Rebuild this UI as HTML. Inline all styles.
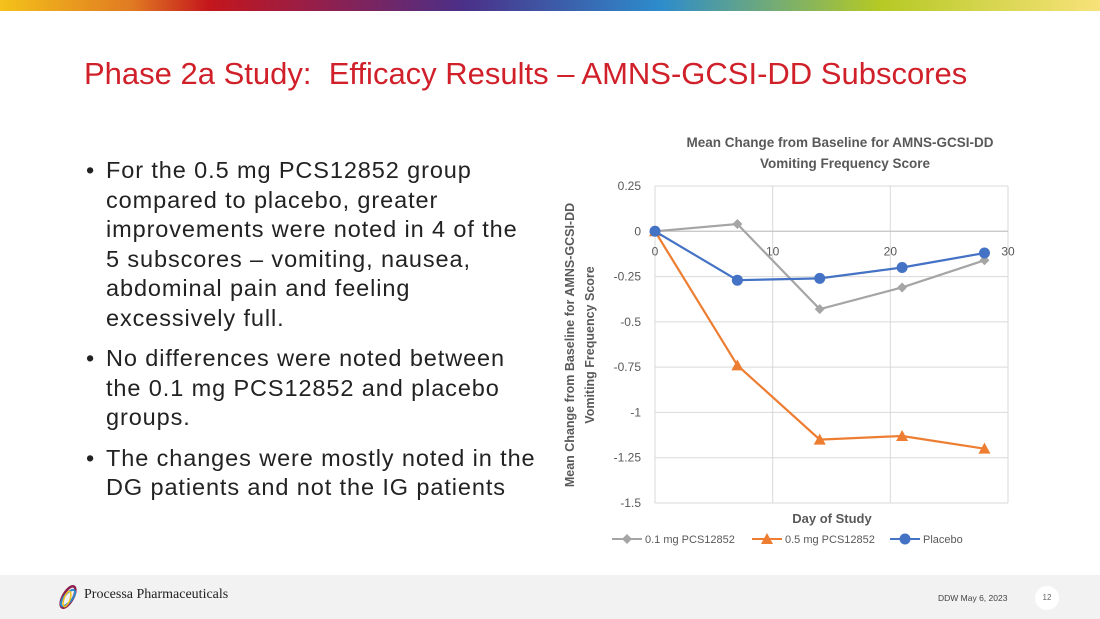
<!DOCTYPE html>
<html><head><meta charset="utf-8"><style>
body{margin:0;width:1100px;height:619px;position:relative;overflow:hidden;background:#fff;font-family:"Liberation Sans",sans-serif}
#band{position:absolute;left:0;top:0;width:1100px;height:11px;background:linear-gradient(90deg,#f4c21a 0%,#e07a22 12%,#c4161c 19%,#8e2050 30%,#4b2f87 42%,#2d8ccc 60%,#b5c924 80%,#f8e27a 100%)}
#title{position:absolute;left:84px;top:56px;font-size:31px;color:#d0202a;white-space:nowrap}
#bullets{position:absolute;left:86px;top:156px;width:470px;font-size:23.5px;letter-spacing:0.9px;line-height:29.5px;color:#222;margin:0;padding:0;list-style:none;white-space:nowrap}
#bullets li{position:relative;padding-left:20px;margin-bottom:11px}
#bullets li:before{content:"•";position:absolute;left:0}
#footer{position:absolute;left:0;top:575px;width:1100px;height:44px;background:#f2f2f2}
</style></head><body>
<div id="band"></div>
<div id="title">Phase 2a Study:&nbsp; Efficacy Results – AMNS-GCSI-DD Subscores</div>
<ul id="bullets">
<li>For the 0.5 mg PCS12852 group<br>compared to placebo, greater<br>improvements were noted in 4 of the<br>5 subscores – vomiting, nausea,<br>abdominal pain and feeling<br>excessively full.</li>
<li>No differences were noted between<br>the 0.1 mg PCS12852 and placebo<br>groups.</li>
<li>The changes were mostly noted in the<br>DG patients and not the IG patients</li>
</ul>
<svg id="chart" width="1100" height="619" style="position:absolute;left:0;top:0" font-family="Liberation Sans, sans-serif"></svg>
<div id="footer">
<svg style="position:absolute;left:56px;top:8px" width="24" height="28"><ellipse cx="12" cy="14" rx="5" ry="12" fill="none" stroke="#8e2050" stroke-width="2.5" transform="rotate(30 12 14)"/><ellipse cx="12" cy="15" rx="4" ry="10" fill="none" stroke="#2d8ccc" stroke-width="2" transform="rotate(40 12 15)"/><ellipse cx="11" cy="16" rx="3" ry="8" fill="none" stroke="#f4c21a" stroke-width="1.5" transform="rotate(20 11 16)"/></svg>
<div style="position:absolute;left:84px;top:12px;font-family:'Liberation Serif',serif;font-size:14px;color:#222">Processa Pharmaceuticals</div>
<div style="position:absolute;left:938px;top:18px;font-size:8.5px;color:#444">DDW May 6, 2023</div>
<div style="position:absolute;left:1035px;top:11px;width:24px;height:24px;border-radius:12px;background:#fff;font-size:8px;color:#666;text-align:center;line-height:24px">12</div>
</div>
<script>
const days=[0,7,14,21,28];
const s01=[0,0.04,-0.43,-0.31,-0.16];
const s05=[0,-0.74,-1.15,-1.13,-1.2];
const pbo=[0,-0.27,-0.26,-0.2,-0.12];
const yTicks=[0.25,0,-0.25,-0.5,-0.75,-1,-1.25,-1.5];
const yLabels=["0.25","0","-0.25","-0.5","-0.75","-1","-1.25","-1.5"];
const xTicks=[0,10,20,30];
const svg=document.getElementById('chart');const NS='http://www.w3.org/2000/svg';
const X=v=>655+v*(1008-655)/30, Y=v=>186+(0.25-v)*(503-186)/1.75;
function el(t,a,p){const e=document.createElementNS(NS,t);for(const k in a)e.setAttribute(k,a[k]);(p||svg).appendChild(e);return e;}
yTicks.forEach((v,i)=>{const g=el('line',{x1:655,x2:1008,y1:Y(v),y2:Y(v),stroke:'#d9d9d9'});
const t=el('text',{x:641,y:Y(v)+4,'text-anchor':'end','font-size':12,fill:'#595959'});t.textContent=yLabels[i];});
xTicks.forEach(v=>{const g=el('line',{x1:X(v),x2:X(v),y1:186,y2:503,stroke:'#d9d9d9'});
const t=el('text',{x:X(v),y:Y(0)+24,'text-anchor':'middle','font-size':12,fill:'#595959'});t.textContent=v;});
const ax=el('line',{x1:655,x2:1008,y1:Y(0),y2:Y(0),stroke:'#bfbfbf'});
function txt(s,a,n){const t=el('text',a);t.textContent=s;}
txt('Mean Change from Baseline for AMNS-GCSI-DD',{x:840,y:147,'text-anchor':'middle','font-size':13.5,'font-weight':'bold',fill:'#595959'},'chart-title');
txt('Vomiting Frequency Score',{x:845,y:168,'text-anchor':'middle','font-size':13.5,'font-weight':'bold',fill:'#595959'},'chart-title-line2');
txt('Day of Study',{x:832,y:523,'text-anchor':'middle','font-size':13,'font-weight':'bold',fill:'#595959'},'x-axis-title');
txt('Mean Change from Baseline for AMNS-GCSI-DD',{x:0,y:0,'text-anchor':'middle','font-size':12.5,'font-weight':'bold',fill:'#595959',transform:'translate(574,345) rotate(-90)'},'y-axis-title');
txt('Vomiting Frequency Score',{x:0,y:0,'text-anchor':'middle','font-size':12.5,'font-weight':'bold',fill:'#595959',transform:'translate(594,345) rotate(-90)'},'y-axis-title-line2');
function marker(type,x,y,c,g){if(type==='d')return el('polygon',{points:`${x},${y-5} ${x+5},${y} ${x},${y+5} ${x-5},${y}`,fill:c},g);
if(type==='t')return el('polygon',{points:`${x},${y-6} ${x+6},${y+5} ${x-6},${y+5}`,fill:c},g);return el('circle',{cx:x,cy:y,r:5.5,fill:c},g);}
const series=[[s01,'#a5a5a5','d','series-0-1mg'],[s05,'#ed7d31','t','series-0-5mg'],[pbo,'#4472c4','c','series-placebo']];
series.forEach(([d,c,m,n])=>{const g=el('g',{});
el('polyline',{points:d.map((v,i)=>X(days[i])+','+Y(v)).join(' '),fill:'none',stroke:c,'stroke-width':2.2},g);
d.forEach((v,i)=>{const p=marker(m,X(days[i]),Y(v),c,g);});});
const leg=[['0.1 mg PCS12852','#a5a5a5','d',612],['0.5 mg PCS12852','#ed7d31','t',752],['Placebo','#4472c4','c',890]];
leg.forEach(([s,c,m,x])=>{const g=el('g',{});
el('line',{x1:x,x2:x+30,y1:539,y2:539,stroke:c,'stroke-width':2},g);marker(m,x+15,539,c,g);
const t=el('text',{x:x+33,y:543,'font-size':11,fill:'#595959'},g);t.textContent=s;});
</script>
</body></html>
